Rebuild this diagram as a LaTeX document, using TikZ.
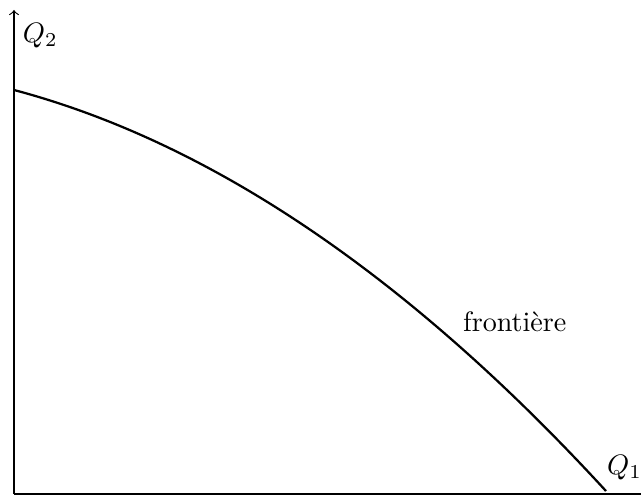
\documentclass[tikz,border=0pt]{standalone}
\usepackage{tikz}
\usepackage{xcolor}

\begin{document}
\begin{tikzpicture}
\useasboundingbox (-0.175,-0.0125) rectangle (7.837,6.175);
% axes
\draw (0,0) -- (7.9,0);
\draw[->] (0,0) -- (0,6.05);
\node (qdeux) at (0.33,5.73) {$Q_2$};
\node (qun) at (7.63,0.33) {$Q_1$};
% frontier
\draw[thick, domain=0:7.4, samples=60, smooth] plot (\x, {5.05 - 0.266*\x - 0.0556*\x*\x});
\node (front) at (6.26,2.15) {frontière};
\end{tikzpicture}
\end{document}
